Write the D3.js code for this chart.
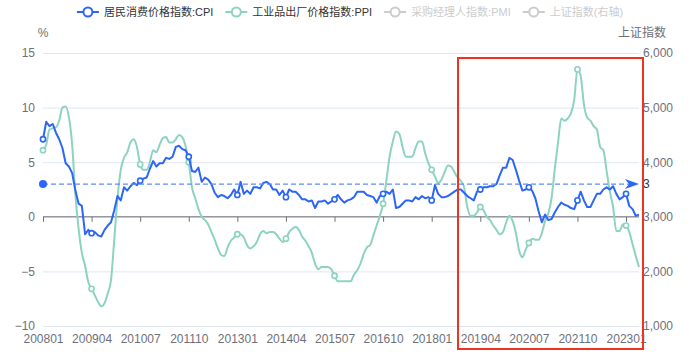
<!DOCTYPE html>
<html>
<head>
<meta charset="utf-8">
<script src="https://cdn.jsdelivr.net/npm/d3@7"></script>
<style>
  body { margin: 0; background: #fff; }
  svg { font-family: 'Liberation Sans', 'Noto Sans CJK SC', sans-serif; }
</style>
</head>
<body>
<div id="chart"></div>
<script>
// ── Data ──
const years = d3.range(2008, 2024);
const months = [];
years.forEach(y => {
  for (let m = 1; m <= 12; m++) {
    if (y === 2023 && m > 5) break;
    months.push(`${y}${String(m).padStart(2, '0')}`);
  }
});

// CPI YoY, %
const cpi = [
  7.1, 8.7, 8.3, 8.5, 7.7, 7.1, 6.3, 4.9, 4.6, 4.0, 2.4, 1.2,
  1.0, -1.6, -1.2, -1.5, -1.4, -1.7, -1.8, -1.2, -0.8, -0.5, 0.6, 1.9,
  1.5, 2.7, 2.4, 2.8, 3.1, 2.9, 3.3, 3.5, 3.6, 4.4, 5.1, 4.6,
  4.9, 4.9, 5.4, 5.3, 5.5, 6.4, 6.5, 6.2, 6.1, 5.5, 4.2, 4.1,
  4.5, 3.2, 3.6, 3.4, 3.0, 2.2, 1.8, 2.0, 1.9, 1.7, 2.0, 2.5,
  2.0, 3.2, 2.1, 2.4, 2.1, 2.7, 2.7, 2.6, 3.1, 3.2, 3.0, 2.5,
  2.5, 2.0, 2.4, 1.8, 2.5, 2.3, 2.3, 2.0, 1.6, 1.6, 1.4, 1.5,
  0.8, 1.4, 1.4, 1.5, 1.2, 1.4, 1.6, 2.0, 1.6, 1.3, 1.5, 1.6,
  1.8, 2.3, 2.3, 2.3, 2.0, 1.9, 1.8, 1.3, 1.9, 2.1, 2.3, 2.1,
  2.5, 0.8, 0.9, 1.2, 1.5, 1.5, 1.4, 1.8, 1.6, 1.9, 1.7, 1.8,
  1.5, 2.9, 2.1, 1.8, 1.8, 1.9, 2.1, 2.3, 2.5, 2.5, 2.2, 1.9,
  1.7, 1.5, 2.3, 2.5, 2.7, 2.7, 2.8, 2.8, 3.0, 3.8, 4.5, 4.5,
  5.4, 5.2, 4.3, 3.3, 2.4, 2.5, 2.7, 2.4, 1.7, 0.5, -0.5, 0.2,
  -0.3, -0.2, 0.4, 0.9, 1.3, 1.1, 1.0, 0.8, 0.7, 1.5, 2.3, 1.5,
  0.9, 0.9, 1.5, 2.1, 2.1, 2.5, 2.7, 2.5, 2.8, 2.1, 1.6, 1.8,
  2.1, 1.0, 0.7, 0.1, 0.2
];

// PPI YoY, %
const ppi = [
  6.1, 6.6, 8.0, 8.1, 8.2, 8.8, 10.0, 10.1, 9.1, 6.6, 2.0, -1.1,
  -3.3, -4.5, -6.0, -6.6, -7.2, -7.8, -8.2, -7.9, -7.0, -5.8, -2.1, 1.7,
  4.3, 5.4, 5.9, 6.8, 7.1, 6.4, 4.8, 4.3, 4.3, 5.0, 6.1, 5.9,
  6.6, 7.2, 7.3, 6.8, 6.8, 7.1, 7.5, 7.3, 6.5, 5.0, 2.7, 1.7,
  0.7, 0.0, -0.3, -0.7, -1.4, -2.1, -2.9, -3.5, -3.6, -2.8, -2.2, -1.9,
  -1.6, -1.6, -1.9, -2.6, -2.9, -2.7, -2.3, -1.6, -1.3, -1.5, -1.4, -1.4,
  -1.6, -2.0, -2.3, -2.0, -1.4, -1.1, -0.9, -1.2, -1.8, -2.2, -2.7, -3.3,
  -4.3, -4.8, -4.6, -4.6, -4.6, -4.8, -5.4, -5.9, -5.9, -5.9, -5.9, -5.9,
  -5.3, -4.9, -4.3, -3.4, -2.8, -2.6, -1.7, -0.8, 0.1, 1.2, 3.3, 5.5,
  6.9, 7.8, 7.6, 6.4, 5.5, 5.5, 5.5, 6.3, 6.9, 6.9, 5.8, 4.9,
  4.3, 3.7, 3.1, 3.4, 4.1, 4.7, 4.6, 4.1, 3.6, 3.3, 2.7, 0.9,
  0.1, 0.1, 0.4, 0.9, 0.6, 0.0, -0.3, -0.8, -1.2, -1.6, -1.4, -0.5,
  0.1, -0.4, -1.5, -3.1, -3.7, -3.0, -2.4, -2.0, -2.1, -2.1, -1.5, -0.4,
  0.3, 1.7, 4.4, 6.8, 9.0, 8.8, 9.0, 9.5, 10.7, 13.5, 12.9, 10.3,
  9.1, 8.8, 8.3, 8.0, 6.4, 6.1, 4.2, 2.3, 0.9, -1.3, -1.3, -0.7,
  -0.8, -1.4, -2.5, -3.6, -4.6
];

const leftTicks = [-10, -5, 0, 5, 10, 15];
const rightTicks = [1000, 2000, 3000, 4000, 5000, 6000];
const cpiTarget = 3;

const legendItems = [
  { name: '居民消费价格指数:CPI', color: '#2b66f6', on: true },
  { name: '工业品出厂价格指数:PPI', color: '#8dd3c0', on: true },
  { name: '采购经理人指数:PMI', color: '#cccccc', on: false },
  { name: '上证指数(右轴)', color: '#cccccc', on: false }
];

// ── Layout ──
const width = 700, height = 355;
const grid = { left: 43, right: 639, top: 53, bottom: 326 };
const axisColor = '#6e7079';
const gridColor = '#e0e6f1';

const svg = d3.select('#chart').append('svg')
  .attr('width', width).attr('height', height);

const x = d3.scalePoint().domain(months).range([grid.left, grid.right]);
const y = d3.scaleLinear().domain([-10, 15]).range([grid.bottom, grid.top]);
const y2 = d3.scaleLinear().domain([1000, 6000]).range([grid.bottom, grid.top]);

const labelMonths = months.filter((_, i) => i % 15 === 0);

// Grid lines
svg.append('g')
  .attr('transform', `translate(${grid.left},0)`)
  .call(d3.axisLeft(y).tickValues(leftTicks).tickSize(-(grid.right - grid.left)).tickFormat(''))
  .call(g => g.select('.domain').remove())
  .selectAll('line').attr('stroke', gridColor);

// Left axis labels
svg.append('g')
  .attr('transform', `translate(${grid.left},0)`)
  .call(d3.axisLeft(y).tickValues(leftTicks).tickSize(0).tickPadding(8))
  .call(g => g.select('.domain').remove())
  .selectAll('text').attr('fill', axisColor).style('font-size', '12px');

// Right axis labels
svg.append('g')
  .attr('transform', `translate(${grid.right},0)`)
  .call(d3.axisRight(y2).tickValues(rightTicks).tickSize(0).tickPadding(4).tickFormat(d3.format(',')))
  .call(g => g.select('.domain').remove())
  .selectAll('text').attr('fill', axisColor).style('font-size', '12px');

// Axis names
svg.append('text').attr('x', grid.left).attr('y', 37)
  .attr('text-anchor', 'middle').attr('fill', axisColor).style('font-size', '12px').text('%');
svg.append('text').attr('x', grid.right + 3).attr('y', 37)
  .attr('text-anchor', 'middle').attr('fill', axisColor).style('font-size', '12px').text('上证指数');

// Zero axis line with ticks
svg.append('g')
  .attr('transform', `translate(0,${y(0)})`)
  .call(d3.axisBottom(x).tickValues(labelMonths).tickSize(5).tickFormat(''))
  .call(g => g.select('.domain').attr('stroke', axisColor).attr('d', `M${grid.left},0H${grid.right}`))
  .selectAll('line').attr('stroke', axisColor);

// Bottom category labels
svg.append('g')
  .attr('transform', `translate(0,${grid.bottom})`)
  .call(d3.axisBottom(x).tickValues(labelMonths).tickSize(0).tickPadding(8))
  .call(g => g.select('.domain').remove())
  .selectAll('text').attr('fill', axisColor).style('font-size', '12px');

// Lines
const seriesList = [
  { data: ppi, color: legendItems[1].color, curve: d3.curveMonotoneX },
  { data: cpi, color: legendItems[0].color, curve: d3.curveLinear }
];

seriesList.forEach(s => {
  const line = d3.line()
    .x((d, i) => x(months[i]))
    .y(d => y(d))
    .curve(s.curve);

  svg.append('path')
    .datum(s.data)
    .attr('fill', 'none')
    .attr('stroke', s.color)
    .attr('stroke-width', 2)
    .attr('stroke-linejoin', 'round')
    .attr('d', line);

  svg.append('g').selectAll('circle')
    .data(s.data.map((v, i) => ({ v, i })).filter(d => d.i % 15 === 0))
    .enter().append('circle')
    .attr('cx', d => x(months[d.i]))
    .attr('cy', d => y(d.v))
    .attr('r', 2.6)
    .attr('fill', '#fff')
    .attr('stroke', s.color)
    .attr('stroke-width', 1.6);
});

// Mark line at CPI target
const markColor = '#5b8ff9';
svg.append('line')
  .attr('x1', grid.left).attr('x2', grid.right - 10)
  .attr('y1', y(cpiTarget)).attr('y2', y(cpiTarget))
  .attr('stroke', markColor).attr('stroke-width', 1.3)
  .attr('stroke-dasharray', '5,3');
svg.append('circle')
  .attr('cx', grid.left).attr('cy', y(cpiTarget)).attr('r', 4)
  .attr('fill', '#2b66f6');
const ay = y(cpiTarget);
svg.append('path')
  .attr('d', `M${grid.right},${ay}L${grid.right - 14},${ay - 5}L${grid.right - 10},${ay}L${grid.right - 14},${ay + 5}Z`)
  .attr('fill', '#2b66f6');
svg.append('text')
  .attr('x', grid.right + 4).attr('y', ay + 4)
  .attr('fill', '#333').style('font-size', '12px').text(cpiTarget);

// Legend
const legend = svg.append('g');
let lx = 0;
legendItems.forEach(item => {
  const g = legend.append('g').attr('transform', `translate(${lx},0)`);
  g.append('line').attr('x1', 0).attr('x2', 22).attr('y1', 0).attr('y2', 0)
    .attr('stroke', item.color).attr('stroke-width', 2);
  g.append('circle').attr('cx', 11).attr('cy', 0).attr('r', 4.5)
    .attr('fill', '#fff').attr('stroke', item.color).attr('stroke-width', 2);
  const t = g.append('text').attr('x', 27).attr('y', 4)
    .attr('fill', item.on ? '#333' : '#ccc').style('font-size', '11px').text(item.name);
  lx += 27 + t.node().getComputedTextLength() + 12;
});
legend.attr('transform', `translate(${(width - (lx - 12)) / 2},12)`);

// Highlight box
svg.append('rect')
  .attr('x', 458).attr('y', 58)
  .attr('width', 185).attr('height', 291)
  .attr('fill', 'none')
  .attr('stroke', '#f0321e')
  .attr('stroke-width', 2);
</script>
</body>
</html>
